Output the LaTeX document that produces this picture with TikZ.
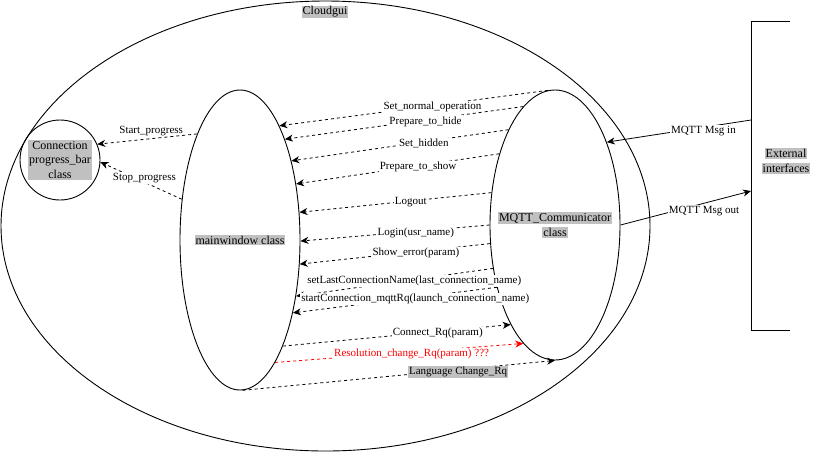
\documentclass[tikz,border=0pt]{standalone}
\usepackage{fontspec}
\setmainfont{Liberation Serif}
\usetikzlibrary{shapes.geometric,arrows.meta}
\definecolor{lblgray}{HTML}{C0C0C0}
\definecolor{msgred}{HTML}{FF0000}
\setlength{\fboxsep}{1pt}
\begin{document}
\begin{tikzpicture}[x=1pt,y=-1pt,
  shell/.style={draw, ellipse, line width=0.9pt, inner sep=0pt},
  tag/.style={fill=lblgray, inner sep=1pt, font=\fontsize{12}{14.5}\selectfont, align=center},
  linetag/.style={inner sep=0pt, font=\fontsize{12}{15}\selectfont, align=center},
  tip/.style={-{Stealth[length=8pt,width=7pt,inset=2.5pt]}},
  msg/.style={draw, line width=0.8pt, dash pattern=on 3pt off 3pt, tip},
  link/.style={draw, line width=0.8pt, tip},
  elabel/.style={fill=white, inner sep=1pt, font=\fontsize{11}{13}\selectfont, yshift=-1.5pt},
]
\useasboundingbox (0,0) rectangle (821,451);

% containers and classes
\node[shell, minimum width=649, minimum height=450] (cloud) at (325.5,226) {};
\node[tag] (cloudtag) at (325,12) {Cloudgui};

\node[shell, circle, minimum size=80] (pb) at (60,160) {};
\node[tag] (pbtag) at (pb.center) {Connection\\progress\_bar\\class};

\node[shell, minimum width=120, minimum height=300] (mw) at (240,240) {};
\node[tag] (mwtag) at (mw.center) {mainwindow class};

\node[shell, minimum width=130, minimum height=270] (mq) at (555,225) {};
\node[linetag] (mqtag) at (mq.center) {\colorbox{lblgray}{MQTT\_Communicator}\\\colorbox{lblgray}{class}};

% external interfaces bracket
\coordinate (exttop) at (751,21);
\coordinate (extbot) at (751,330);
\draw[line width=0.9pt] (790,21) -- (exttop) -- (extbot) -- (790,330);
\node[linetag] (ext) at (786,161) {\colorbox{lblgray}{External}\\\colorbox{lblgray}{interfaces}};
\coordinate (extin) at (751,120);
\coordinate (extout) at (751,191);

% MQTT traffic with the outside
\draw[link] (extin) -- node[elabel, pos=0.33, yshift=-2pt] {MQTT Msg in} (mq.58);
\draw[link] (mq.0) -- node[elabel, pos=0.64, yshift=-6pt] {MQTT Msg out} (extout);

% progress bar signals
\draw[msg] (mw.112) -- node[pos=0.46, above=1pt, inner sep=1pt, font=\fontsize{11}{13}\selectfont] {Start\_progress} (pb.23);
\draw[msg] (mw.145) -- node[elabel, pos=0.46, yshift=5.5pt] {Stop\_progress} (pb.-3);

% communicator -> mainwindow
\draw[msg] (mq.93) -- node[elabel, pos=0.43] {Set\_normal\_operation} (mw.71);
\draw[msg] (mq.105) -- node[elabel, pos=0.41] {Prepare\_to\_hide} (mw.66);
\draw[msg] (mq.116) -- node[elabel, pos=0.39] {Set\_hidden} (mw.57);
\draw[msg] (mq.128) -- node[elabel, pos=0.40] {Prepare\_to\_show} (mw.45);
\draw[msg] (mq.153) -- node[elabel, pos=0.42] {Logout} (mw.25);
\draw[msg] (mq.180) -- node[elabel, pos=0.39] {Login(usr\_name)} (mw.-1);
\draw[msg] (mq.196) -- node[elabel, pos=0.39] {Show\_error(param)} (mw.-22);
\draw[msg] (mq.215) -- node[elabel, pos=0.40] {setLastConnectionName(last\_connection\_name)} (mw.-45);
\draw[msg] (mq.227) -- node[elabel, pos=0.40] {startConnection\_mqttRq(launch\_connection\_name)} (mw.-54);

% mainwindow -> communicator
\draw[msg] (mw.-68) -- node[elabel, pos=0.68] {Connect\_Rq(param)} (mq.246);
\draw[msg, draw=msgred, color=msgred] (mw.-74) -- node[elabel, pos=0.55, text=msgred] {Resolution\_change\_Rq(param) ???} (mq.255);
\draw[msg] (mw.-89) -- node[elabel, fill=lblgray, pos=0.69, yshift=-1pt] {Language Change\_Rq} (mq.270);
\end{tikzpicture}
\end{document}
